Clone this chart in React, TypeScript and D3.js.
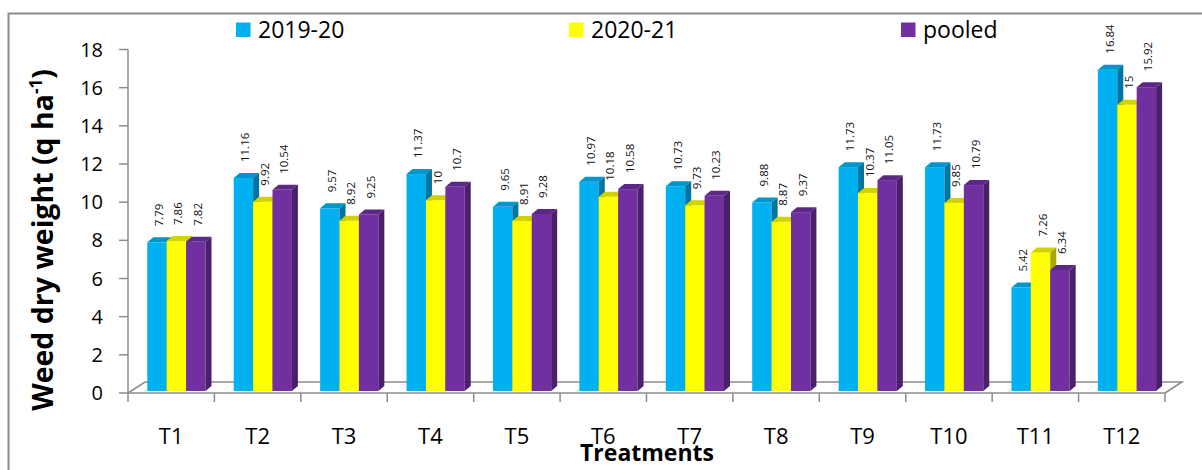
import React, { useEffect, useRef } from 'react';
import * as d3 from 'd3';

const treatments = ['T1', 'T2', 'T3', 'T4', 'T5', 'T6', 'T7', 'T8', 'T9', 'T10', 'T11', 'T12'];
const seriesNames = ['2019-20', '2020-21', 'pooled'];
const values2019 = [7.79, 11.16, 9.57, 11.37, 9.65, 10.97, 10.73, 9.88, 11.73, 11.73, 5.42, 16.84];
const values2020 = [7.86, 9.92, 8.92, 10, 8.91, 10.18, 9.73, 8.87, 10.37, 9.85, 7.26, 15];
const valuesPooled = [7.82, 10.54, 9.25, 10.7, 9.28, 10.58, 10.23, 9.37, 11.05, 10.79, 6.34, 15.92];
const yTicks = [0, 2, 4, 6, 8, 10, 12, 14, 16, 18];

const frontColors = ['#00B0F0', '#FFFF00', '#7030A0'];
const topColors = ['#0095CC', '#D2D200', '#5C2787'];
const sideColors = ['#00759F', '#A8A800', '#4A1F6C'];

const FONT = "'Open Sans', 'Liberation Sans', sans-serif";

const App = () => {
    const svgRef = useRef<SVGSVGElement>(null);

    useEffect(() => {
        const svg = d3.select(svgRef.current);
        svg.selectAll('*').remove();

        const allValues = [values2019, values2020, valuesPooled];

        const x0 = d3.scaleBand().domain(treatments).range([128, 1165]);
        const x1 = d3.scaleBand().domain(seriesNames).range([19.3, 77.5]);
        const y = d3.scaleLinear().domain([0, 18]).range([393, 49.5]);

        // depth of bars and of the floor (oblique 3D look)
        const dx = 6, dy = -5;
        const fdx = 17, fdy = -11;
        const lift = 2;
        const axisColor = '#8c8c8c';

        // outer frame
        svg.append('rect')
            .attr('x', 8.5).attr('y', 13.5)
            .attr('width', 1210).attr('height', 470)
            .attr('fill', 'none')
            .attr('stroke', '#8a8a8a')
            .attr('stroke-width', 2);

        // floor
        const x0min = 128, x0max = 1165, yb = y(0);
        const floor = svg.append('g').attr('stroke', axisColor).attr('stroke-width', 1.5).attr('fill', 'none');
        floor.append('path')
            .attr('d', `M${x0min},${yb}L${x0min + fdx},${yb + fdy}L${x0max + fdx},${yb + fdy}L${x0max},${yb}`);

        // y axis
        const yAxis = svg.append('g').attr('stroke', axisColor).attr('stroke-width', 1.5);
        yAxis.append('line').attr('x1', x0min).attr('x2', x0min).attr('y1', y(18)).attr('y2', yb + 9);
        yTicks.forEach(t => {
            yAxis.append('line').attr('x1', x0min - 9).attr('x2', x0min).attr('y1', y(t)).attr('y2', y(t));
        });
        svg.append('g').selectAll('text')
            .data(yTicks)
            .join('text')
            .attr('x', 103)
            .attr('y', d => y(d) + 7)
            .attr('text-anchor', 'end')
            .attr('font-family', FONT)
            .attr('font-size', 20)
            .attr('fill', '#000')
            .text(d => d);

        // x axis
        const xAxis = svg.append('g').attr('stroke', axisColor).attr('stroke-width', 1.5);
        xAxis.append('line').attr('x1', x0min).attr('x2', x0max).attr('y1', yb).attr('y2', yb);
        treatments.forEach(t => {
            const xt = x0(t)! + x0.bandwidth();
            xAxis.append('line').attr('x1', xt).attr('x2', xt).attr('y1', yb).attr('y2', yb + 9);
        });
        svg.append('g').selectAll('text')
            .data(treatments)
            .join('text')
            .attr('x', d => x0(d)! + x0.bandwidth() / 2)
            .attr('y', 444)
            .attr('text-anchor', 'middle')
            .attr('font-family', FONT)
            .attr('font-size', 22)
            .attr('fill', '#000')
            .text(d => d);

        // bars
        const w = x1.bandwidth();
        const base = y(0) - lift;
        const bars = svg.append('g');
        treatments.forEach((t, i) => {
            seriesNames.forEach((s, si) => {
                const v = allValues[si][i];
                const xf = x0(t)! + x1(s)!;
                const top = y(v) - lift;
                const g = bars.append('g');
                g.append('rect')
                    .attr('x', xf).attr('y', top)
                    .attr('width', w).attr('height', base - top)
                    .attr('fill', frontColors[si]);
                g.append('path')
                    .attr('d', `M${xf},${top}L${xf + dx},${top + dy}L${xf + w + dx},${top + dy}L${xf + w},${top}Z`)
                    .attr('fill', topColors[si]);
                g.append('path')
                    .attr('d', `M${xf + w},${top}L${xf + w + dx},${top + dy}L${xf + w + dx},${base + dy}L${xf + w},${base}Z`)
                    .attr('fill', sideColors[si]);
            });
        });

        // value labels
        const labels = svg.append('g');
        treatments.forEach((t, i) => {
            seriesNames.forEach((s, si) => {
                const v = allValues[si][i];
                const cx = x0(t)! + x1(s)! + w / 2 + dx / 2;
                const ty = y(v) - lift + dy - 11;
                labels.append('text')
                    .attr('transform', `translate(${cx + 3},${ty}) rotate(-90)`)
                    .attr('font-family', FONT)
                    .attr('font-size', 11.5)
                    .attr('fill', '#111')
                    .text(String(v));
            });
        });

        // legend
        const legendX = [236, 569, 901];
        const legend = svg.append('g');
        seriesNames.forEach((s, si) => {
            legend.append('rect')
                .attr('x', legendX[si]).attr('y', 22.5)
                .attr('width', 14.5).attr('height', 14.5)
                .attr('fill', frontColors[si]);
            legend.append('text')
                .attr('x', legendX[si] + 22)
                .attr('y', 38)
                .attr('font-family', FONT)
                .attr('font-size', 23)
                .attr('fill', '#000')
                .text(s);
        });

        // axis titles
        const yTitle = svg.append('text')
            .attr('transform', 'translate(53,240) rotate(-90)')
            .attr('text-anchor', 'middle')
            .attr('font-family', FONT)
            .attr('font-weight', 'bold')
            .attr('font-size', 28.5)
            .attr('fill', '#000');
        yTitle.append('tspan').text('Weed dry weight (q ha');
        yTitle.append('tspan').attr('dy', -11).attr('font-size', 17).text('-1');
        yTitle.append('tspan').attr('dy', 11).text(')');

        svg.append('text')
            .attr('x', 647)
            .attr('y', 461)
            .attr('text-anchor', 'middle')
            .attr('font-family', FONT)
            .attr('font-weight', 'bold')
            .attr('font-size', 23)
            .attr('fill', '#000')
            .text('Treatments');
    }, []);

    return (
        <svg ref={svgRef} width={1202} height={470}
            style={{ position: 'absolute', left: 0, top: 0, background: '#fff' }}></svg>
    );
};

export default App;
